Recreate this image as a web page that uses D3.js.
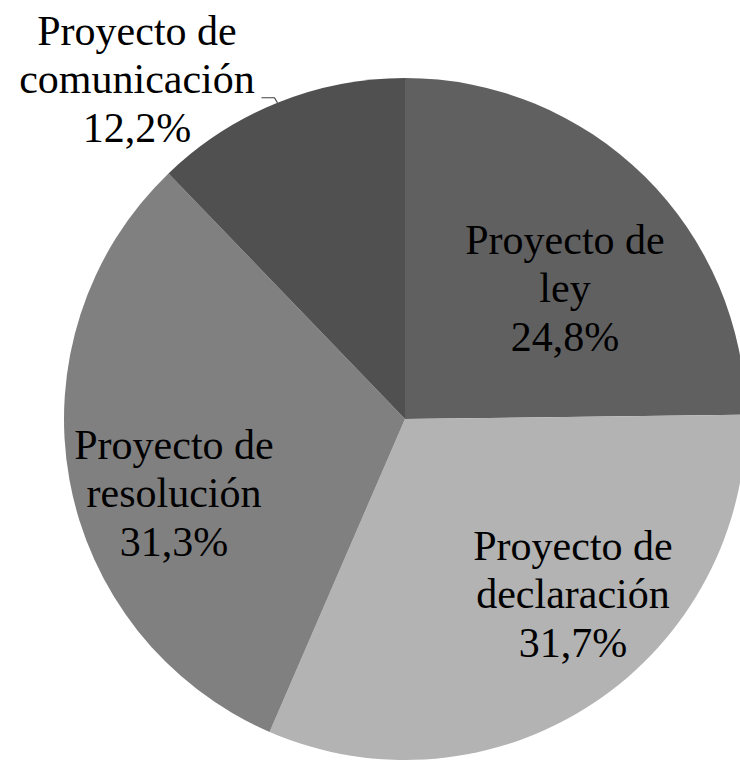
<!DOCTYPE html>
<html>
<head>
<meta charset="utf-8">
<script src="https://cdn.jsdelivr.net/npm/d3@7"></script>
</head>
<body style="margin:0">
<svg id="chart"></svg>
<script>
// Data
const categories = ["Proyecto de ley", "Proyecto de declaración", "Proyecto de resolución", "Proyecto de comunicación"];
const values = [24.8, 31.7, 31.3, 12.2];
const labelLines = [
  ["Proyecto de", "ley"],
  ["Proyecto de", "declaración"],
  ["Proyecto de", "resolución"],
  ["Proyecto de", "comunicación"]
];
const colors = ["#606060", "#b3b3b3", "#808080", "#505050"];

// Layout
const width = 740, height = 760;
const cx = 405, cy = 419, radius = 341;
const fontSize = 42, lineHeight = 48.5;
// label anchor (centre x, baseline of the middle line), offset from pie centre
const labelOffsets = [[160, -117], [168, 189], [-231, 88], [-268, -326]];

const fmt = v => d3.format(".1f")(v).replace(".", ",") + "%";

const svg = d3.select("#chart")
    .attr("width", width)
    .attr("height", height);

const g = svg.append("g")
    .attr("transform", `translate(${cx},${cy})`);

const pie = d3.pie().sort(null).value(d => d.value);
const arc = d3.arc().innerRadius(0).outerRadius(radius);

const data = categories.map((c, i) => ({name: c, value: values[i], lines: labelLines[i], color: colors[i], off: labelOffsets[i]}));
const arcs = pie(data);

g.selectAll("path.slice")
    .data(arcs)
    .join("path")
    .attr("class", "slice")
    .attr("d", arc)
    .attr("fill", d => d.data.color);

// Leader line for the outside label (Proyecto de comunicación)
const outside = arcs[3];
const mid = (outside.startAngle + outside.endAngle) / 2;
const edge = [Math.sin(mid) * radius, -Math.cos(mid) * radius];
g.append("path")
    .attr("d", `M${edge[0] - 16},${edge[1] - 5} H${edge[0] - 3} L${edge[0]},${edge[1]}`)
    .attr("fill", "none")
    .attr("stroke", "#404040")
    .attr("stroke-width", 1.2);

// Labels, one text element per line, placed straight in the svg
const labelRows = [];
arcs.forEach(d => {
  d.data.lines.concat([fmt(d.data.value)]).forEach((ln, j) => {
    labelRows.push({text: ln, x: cx + d.data.off[0], y: cy + d.data.off[1] + (j - 1) * lineHeight});
  });
});

svg.selectAll("text")
    .data(labelRows)
    .join("text")
    .attr("x", d => d.x)
    .attr("y", d => d.y)
    .attr("text-anchor", "middle")
    .attr("font-size", fontSize)
    .style("font-family", '"Liberation Serif"')
    .text(d => d.text);
</script>
</body>
</html>
